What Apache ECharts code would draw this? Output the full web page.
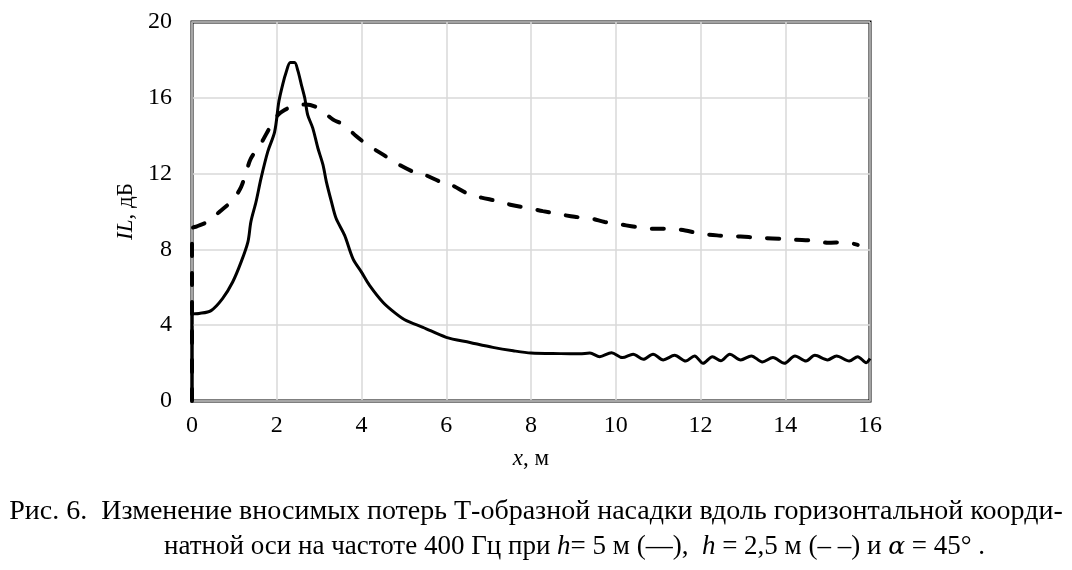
<!DOCTYPE html>
<html>
<head>
<meta charset="utf-8">
<script src="https://cdn.jsdelivr.net/npm/echarts@6/dist/echarts.min.js"></script>
<style>
html,body{margin:0;padding:0;background:#fff;}
#chart{width:1072px;height:570px;}
</style>
</head>
<body>
<div id="chart"></div>
<script>
// h = 5 м, сплошная линия: [x, IL]
var solidLine = [
	[0,0],[0,4.6],[0.17,4.62],[0.45,4.77],[0.72,5.4],[0.96,6.28],[1.16,7.34],
	[1.32,8.4],[1.39,9.46],[1.51,10.5],[1.63,11.76],[1.79,13.17],[1.95,14.2],
	[2.05,15.8],[2.14,16.7],[2.22,17.33],[2.32,17.86],[2.42,17.86],[2.5,17.42],
	[2.58,16.7],[2.66,16.0],[2.73,15.1],[2.85,14.4],[2.97,13.35],[3.09,12.47],
	[3.17,11.58],[3.29,10.52],[3.4,9.64],[3.6,8.75],[3.8,7.5],[4.0,6.8],
	[4.19,6.1],[4.51,5.2],[4.82,4.6],[5.06,4.24],[5.45,3.89],[6.0,3.36],
	[6.56,3.09],[7.1,2.83],[7.58,2.65],[8.0,2.53],[8.7,2.5],[9.15,2.49],
	[9.39,2.53],[9.62,2.34],[9.9,2.55],[10.16,2.29],[10.41,2.47],[10.65,2.2],
	[10.88,2.47],[11.12,2.17],[11.39,2.41],[11.65,2.11],[11.86,2.38],[12.06,1.99],
	[12.28,2.34],[12.48,2.12],[12.69,2.47],[12.95,2.17],[13.2,2.38],[13.46,2.06],
	[13.71,2.29],[13.98,1.99],[14.23,2.38],[14.49,2.11],[14.7,2.41],[15.0,2.17],
	[15.21,2.38],[15.51,2.11],[15.71,2.34],[15.91,2.02],[16.0,2.24]
];

// h = 2,5 м, штриховая линия
var dashLine = [
	[0,0],[0,9.1],[0.1,9.2],[0.37,9.46],[0.65,9.99],[0.96,10.6],[1.16,11.3],
	[1.28,12.1],[1.39,12.8],[1.63,13.6],[1.83,14.4],[2.03,15.1],[2.22,15.4],
	[2.38,15.56],[2.69,15.65],[2.97,15.47],[3.33,14.85],[3.56,14.6],[3.88,13.97],
	[4.15,13.5],[4.51,13.0],[4.82,12.55],[5.22,12.1],[5.49,11.94],[5.85,11.58],
	[6.12,11.4],[6.56,10.88],[6.83,10.73],[7.27,10.52],[7.54,10.34],[7.97,10.17],
	[8.28,10.02],[8.71,9.84],[9.03,9.72],[9.42,9.63],[9.74,9.45],[10.13,9.31],
	[10.49,9.18],[10.89,9.09],[11.2,9.09],[11.64,9.0],[12.0,8.83],[12.39,8.74],
	[12.75,8.7],[13.14,8.65],[13.5,8.6],[13.89,8.56],[14.25,8.51],[14.64,8.47],
	[15.0,8.35],[15.4,8.38],[15.71,8.24]
];

var xTicks = [0,2,4,6,8,10,12,14,16];
var yTicks = [0,4,8,12,16,20];

var serif = '"Liberation Serif","DejaVu Serif",serif';

var chart = echarts.init(document.getElementById('chart'));
chart.setOption({
	animation:false,
	backgroundColor:'#fff',
	title:[
		{
			left:'center',
			top:491,
			text:'Рис. 6.  Изменение вносимых потерь Т-образной насадки вдоль горизонтальной коорди-',
			textStyle:{fontFamily:serif,fontSize:28,fontWeight:'normal',color:'#000',lineHeight:32}
		},
		{
			left:159,
			top:526,
			text:'{n|натной оси на частоте 400 Гц при }{i|h}{n|= 5 м (—),  }{i|h}{n| = 2,5 м (– –) и }{a|α}{n| = 45° .}',
			textStyle:{
				fontFamily:serif,
				fontSize:27,
				fontWeight:'normal',
				color:'#000',
				rich:{
					n:{fontFamily:serif,fontSize:27,color:'#000',lineHeight:32},
					i:{fontFamily:serif,fontSize:27,fontStyle:'italic',color:'#000',lineHeight:32},
					a:{fontFamily:'"DejaVu Serif",serif',fontSize:25,fontStyle:'italic',color:'#000',lineHeight:32}
				}
			}
		}
	],
	grid:{
		left:192,
		right:202,
		top:22,
		bottom:169,
		show:true,
		borderColor:'#000',
		borderWidth:3
	},
	xAxis:{
		type:'value',
		min:xTicks[0],
		max:xTicks[xTicks.length-1],
		interval:2,
		name:'{i|x}{n|, м}',
		nameLocation:'middle',
		nameGap:46,
		nameTextStyle:{
			rich:{
				i:{fontFamily:serif,fontSize:23,fontStyle:'italic',color:'#000'},
				n:{fontFamily:serif,fontSize:23,color:'#000'}
			}
		},
		axisLine:{show:true,lineStyle:{color:'#a6a6a6',width:2}},
		axisTick:{show:false},
		axisLabel:{fontFamily:serif,fontSize:24,color:'#000',margin:13},
		splitLine:{show:true,lineStyle:{color:'#d9d9d9',width:1.5}}
	},
	yAxis:{
		type:'value',
		min:yTicks[0],
		max:yTicks[yTicks.length-1],
		interval:4,
		name:'{i|IL}{n|, дБ}',
		nameLocation:'middle',
		nameGap:52,
		nameRotate:90,
		nameTextStyle:{
			rich:{
				i:{fontFamily:serif,fontSize:23,fontStyle:'italic',color:'#000'},
				n:{fontFamily:serif,fontSize:23,color:'#000'}
			}
		},
		axisLine:{show:true,lineStyle:{color:'#a6a6a6',width:2}},
		axisTick:{show:false},
		axisLabel:{fontFamily:serif,fontSize:24,color:'#000',margin:20},
		splitLine:{show:true,lineStyle:{color:'#d9d9d9',width:1.5}}
	},
	series:[
		{
			name:'h = 2,5 м',
			type:'line',
			data:dashLine,
			smooth:0.3,
			symbol:'none',
			clip:true,
			lineStyle:{color:'#000',width:4,type:[12,17],cap:'round'}
		},
		{
			name:'h = 5 м',
			type:'line',
			data:solidLine,
			smooth:0.3,
			symbol:'none',
			clip:true,
			lineStyle:{color:'#000',width:3}
		}
	]
});
</script>
</body>
</html>
